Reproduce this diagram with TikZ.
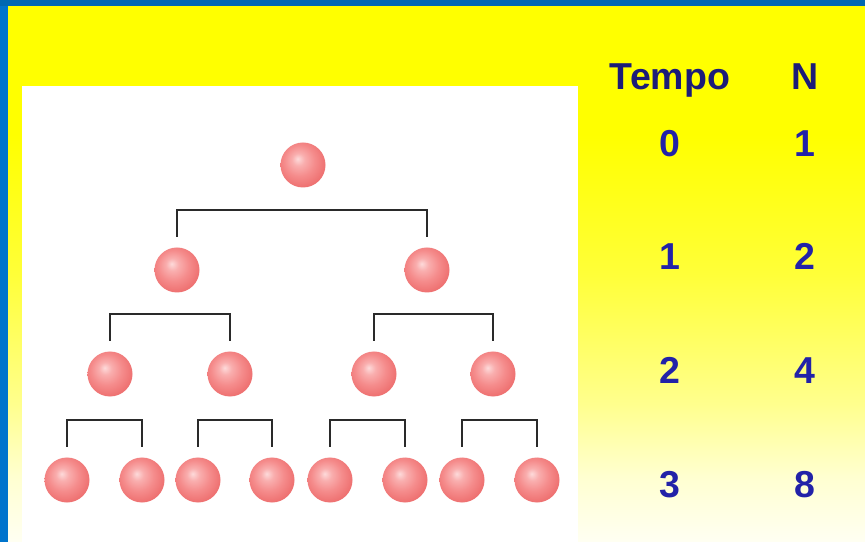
\documentclass[tikz,border=0pt]{standalone}
\usepackage{fontspec}
\setmainfont{Liberation Sans}
\usetikzlibrary{positioning, calc}
\definecolor{Bordo}{HTML}{0068B2}
\definecolor{BordoSx}{HTML}{0074CC}
\definecolor{Titolo}{HTML}{1C1C78}
\definecolor{Cifra}{HTML}{2222A8}
\definecolor{Linea}{HTML}{2A2A2A}
\definecolor{PallaLuce}{HTML}{FDDADA}
\definecolor{PallaChiara}{HTML}{F9AEAE}
\definecolor{PallaCorpo}{HTML}{F58C8C}
\definecolor{PallaBordo}{HTML}{EE7070}
\pgfdeclareradialshading{sfera}{\pgfpoint{-6bp}{7bp}}{%
  color(0bp)=(PallaLuce); color(7bp)=(PallaChiara); color(17bp)=(PallaCorpo);
  color(28bp)=(PallaBordo); color(50bp)=(PallaBordo)}
\pgfdeclareverticalshading{sfondo}{100bp}{%
  color(0bp)=(yellow!5!white); color(25bp)=(yellow!5!white); color(31bp)=(yellow!18!white);
  color(38bp)=(yellow!45!white); color(50bp)=(yellow!78!white); color(63bp)=(yellow);
  color(100bp)=(yellow)}
\tikzset{
    palla/.style={circle, minimum size=1.35cm, inner sep=0pt, shading=sfera},
    staffa/.style={line width=2.1pt, color=Linea},
    testa/.style={font=\fontsize{32}{38}\selectfont\bfseries, text=Titolo, anchor=base, inner sep=0pt},
    cifra/.style={font=\fontsize{32}{38}\selectfont\bfseries, text=Cifra, anchor=base, inner sep=0pt},
}
\begin{document}
\begin{tikzpicture}[x=0.03cm, y=-0.03cm]
    \useasboundingbox (0,0) rectangle (865,542);
    % Sfondo e cornice
    \shade[shading=sfondo] (8,6) rectangle (865,542);
    \fill[BordoSx] (0,0) rectangle (8,542);
    \fill[Bordo] (0,0) rectangle (865,6);
    \fill[white] (22,86) rectangle (578,542);

    % Palline per generazione
    \node[palla] (s0-1) at (303,165) {};
    \foreach \i/\x in {1/177, 2/427} \node[palla] (s1-\i) at (\x,270) {};
    \foreach \i/\x in {1/110, 2/230, 3/374, 4/493} \node[palla] (s2-\i) at (\x,374) {};
    \foreach \i/\x in {1/67, 2/142, 3/198, 4/272, 5/330, 6/405, 7/462, 8/537} \node[palla] (s3-\i) at (\x,480) {};

    % Staffe tra fratelli
    \foreach \a/\b in {s1-1/s1-2, s2-1/s2-2, s2-3/s2-4, s3-1/s3-2, s3-3/s3-4, s3-5/s3-6, s3-7/s3-8}
        \draw[staffa] ([yshift=0.32cm]\a.north) |- ([yshift=1.12cm]\b.north) -- ([yshift=0.32cm]\b.north);

    % Tabella
    \node[testa] (tempo) at (670,90) {Tempo};
    \node[testa] (enne) at (805,90) {N};
    \foreach \t/\n/\yb in {0/1/157, 1/2/270, 2/4/384, 3/8/497} {
        \node[cifra] (t\t) at (670,\yb) {\t};
        \node[cifra] (n\t) at (805,\yb) {\n};
    }
\end{tikzpicture}
\end{document}
